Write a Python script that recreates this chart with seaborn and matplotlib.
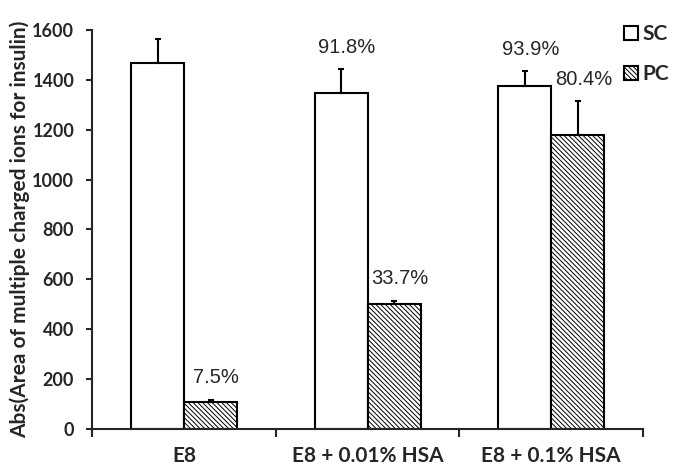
import pandas as pd
import matplotlib
matplotlib.use("Agg")
import matplotlib.pyplot as plt
import matplotlib.patches as mpatches
import seaborn as sns

# Data
conditions = ["E8", "E8 + 0.01% HSA", "E8 + 0.1% HSA"]
sc_values = [1466, 1346, 1377]
pc_values = [110, 500, 1179]
sc_errors = [96, 97, 57]
pc_errors = [8, 15, 136]
sc_labels = ["", "91.8%", "93.9%"]
pc_labels = ["7.5%", "33.7%", "80.4%"]
series = ["SC", "PC"]
y_ticks = [0, 200, 400, 600, 800, 1000, 1200, 1400, 1600]

df = pd.DataFrame({
    "Condition": conditions * 2,
    "Type": [series[0]] * 3 + [series[1]] * 3,
    "Value": sc_values + pc_values,
})

sns.set_style("ticks")
plt.rcParams["font.family"] = ["Lato", "DejaVu Sans"]
plt.rcParams["hatch.linewidth"] = 0.7
plt.rcParams["axes.linewidth"] = 1.5

fig = plt.figure(figsize=(6.75, 4.71), dpi=100)
ax = fig.add_axes([0.1367, 0.0892, 0.8159, 0.8471])

sns.barplot(data=df, x="Condition", y="Value", hue="Type", order=conditions,
            hue_order=series, palette=["white", "white"], edgecolor="black",
            linewidth=1.5, width=0.578, errorbar=None, legend=False, ax=ax)

hatch = "\\" * 7
for p in ax.containers[1].patches:
    p.set_hatch(hatch)

# one-sided error bars and percentage labels
for cont, vals, errs, labs in zip(ax.containers, [sc_values, pc_values],
                                  [sc_errors, pc_errors], [sc_labels, pc_labels]):
    xs = [p.get_x() + p.get_width() / 2 for p in cont.patches]
    ax.errorbar(xs, vals, yerr=[[0] * 3, errs], fmt="none", ecolor="black",
                elinewidth=1.5, capsize=2.5, capthick=1.5, zorder=3)
    for x, v, e, lab in zip(xs, vals, errs, labs):
        if lab:
            ax.annotate(lab, (x, v + e), xytext=(4, 9), textcoords="offset points",
                        ha="center", va="bottom", fontsize=14.5,
                        family=["Liberation Sans", "DejaVu Sans"])

ax.set_ylim(0, 1600)
ax.set_yticks(y_ticks)
ax.set_xlim(-0.5, 2.5)
ax.set_xticks([-0.5, 0.5, 1.5, 2.5])
ax.set_xticklabels([])
ax.set_xticks([0, 1, 2], minor=True)
ax.set_xticklabels(conditions, minor=True, fontsize=15, fontweight="bold")
ax.tick_params(axis="x", which="major", length=6, width=1.5, direction="out")
ax.tick_params(axis="x", which="minor", length=0, pad=12)
ax.tick_params(axis="y", length=4, width=1.5, pad=9, labelsize=13)
for t in ax.get_yticklabels():
    t.set_fontweight("bold")

ax.set_xlabel("")
ax.set_ylabel("Abs(Area of multiple charged ions for insulin)", fontsize=15,
              fontweight="bold")
ax.yaxis.set_label_coords(-0.113, 0.5)
sns.despine(ax=ax)

handles = [
    mpatches.Patch(facecolor="white", edgecolor="black", linewidth=1.5),
    mpatches.Patch(facecolor="white", edgecolor="black", linewidth=1.5, hatch=hatch),
]
fig.legend(handles, series, loc="upper left", bbox_to_anchor=(0.925, 0.948),
           frameon=False, handlelength=0.63, handleheight=0.63, handletextpad=0.25,
           labelspacing=0.95, borderpad=0, borderaxespad=0,
           prop={"weight": "bold", "size": 15})

fig.savefig("out.png", dpi=100)
